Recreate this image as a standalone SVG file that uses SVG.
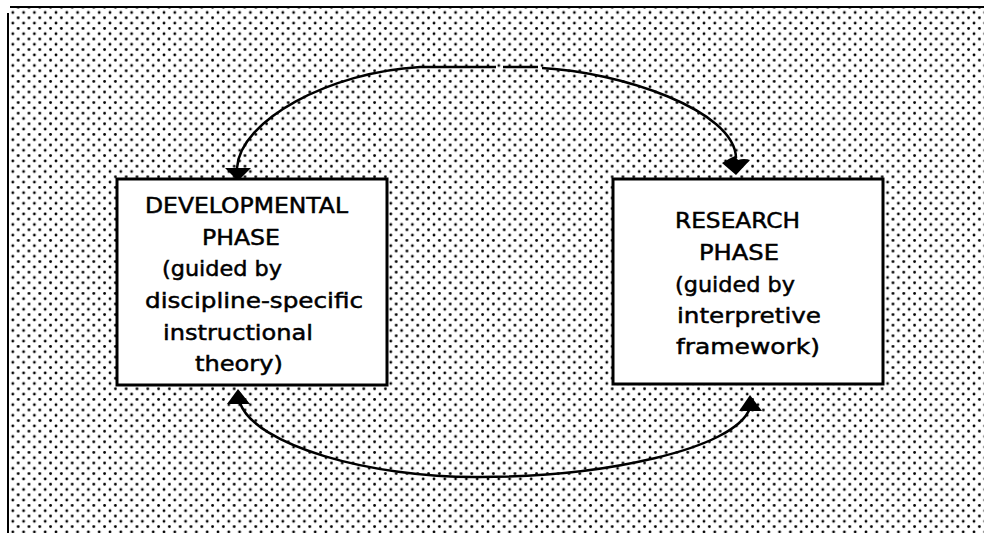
<svg xmlns="http://www.w3.org/2000/svg" width="984" height="533" viewBox="0 0 984 533">
<defs>
<pattern id="dots" width="10.8" height="10.6" patternUnits="userSpaceOnUse">
<circle cx="2" cy="2" r="1.4" fill="#000"/>
<circle cx="7.4" cy="7.3" r="1.4" fill="#000"/>
</pattern>
<style>
.box{fill:#fff;stroke:#000;stroke-width:3}
.lbl{font-family:"DejaVu Sans","Liberation Sans",sans-serif;font-size:22px;fill:#000;stroke:#000;stroke-width:0.5}
.arc{fill:none;stroke:#000;stroke-width:2.5;stroke-linecap:butt}
.head{fill:#000}
</style>
</defs>
<rect width="984" height="533" fill="#fff"/>
<rect x="9" y="8" width="975" height="525" fill="url(#dots)"/>
<path d="M8,533 V13 M10,7 H984" fill="none" stroke="#000" stroke-width="2"/>

<g id="connectors">
<path class="arc" d="M237,168 C240,120 330,72 420,67 L496,67 M503,67 L538,67 M542,68 C620,72 735,110 736,158"/>
<polygon class="head" points="225,168 251,168 238,181"/>
<path class="head" d="M722,163 Q730,158 735,156 L738,160 Q744,158 750,160 L736,175 Z"/>
<path class="arc" d="M240,403 C255,445 370,478 480,477 C600,477 735,450 750,408"/>
<polygon class="head" points="238,389 227,404 250,404"/>
<polygon class="head" points="750,395 739,411 762,411"/>
</g>

<g id="developmental">
<rect class="box" x="117" y="179" width="270" height="206"/>
<text class="lbl" x="145" y="213" textLength="203" lengthAdjust="spacingAndGlyphs">DEVELOPMENTAL</text>
<text class="lbl" x="202" y="245" textLength="78" lengthAdjust="spacingAndGlyphs">PHASE</text>
<text class="lbl" x="162" y="276" textLength="120" lengthAdjust="spacingAndGlyphs">(guided by</text>
<text class="lbl" x="145" y="308" textLength="218" lengthAdjust="spacingAndGlyphs">discipline-specific</text>
<text class="lbl" x="163" y="340" textLength="150" lengthAdjust="spacingAndGlyphs">instructional</text>
<text class="lbl" x="195" y="371" textLength="88" lengthAdjust="spacingAndGlyphs">theory)</text>
</g>

<g id="research">
<rect class="box" x="613" y="179" width="270" height="205"/>
<text class="lbl" x="675" y="228" textLength="125" lengthAdjust="spacingAndGlyphs">RESEARCH</text>
<text class="lbl" x="699" y="260" textLength="80" lengthAdjust="spacingAndGlyphs">PHASE</text>
<text class="lbl" x="675" y="292" textLength="120" lengthAdjust="spacingAndGlyphs">(guided by</text>
<text class="lbl" x="677" y="323" textLength="144" lengthAdjust="spacingAndGlyphs">interpretive</text>
<text class="lbl" x="676" y="354" textLength="144" lengthAdjust="spacingAndGlyphs">framework)</text>
</g>
</svg>
